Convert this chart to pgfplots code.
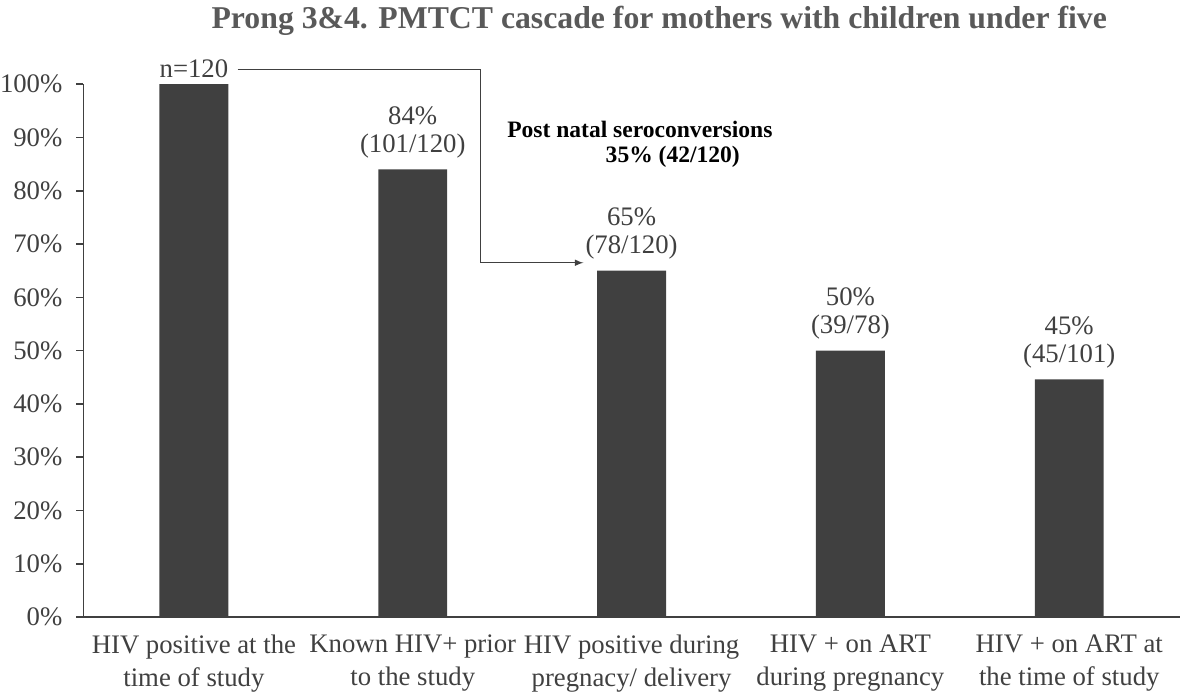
\documentclass[border=0pt]{standalone}
\usepackage{pgfplots}
\pgfplotsset{compat=1.18}
\usepackage{fontspec}
\setmainfont{Liberation Serif}
\definecolor{barc}{HTML}{404040}
\definecolor{txt}{HTML}{404040}
\definecolor{ttl}{HTML}{595959}
\begin{document}
\begin{tikzpicture}
\begin{axis}[
  width=549.5pt, height=267pt, scale only axis,
  xmin=-0.505, xmax=4.507, ymin=0, ymax=100,
  axis lines*=left,
  axis line style={draw=txt, line width=0.8pt},
  ybar, bar width=34.5pt,
  xtick={0,1,2,3,4},
  xticklabels={HIV positive at the\\time of study, Known HIV+ prior\\to the study, HIV positive during\\pregnacy/ delivery, HIV + on ART\\during pregnancy, HIV + on ART at\\the time of study},
  xticklabel style={align=center, text=txt, font=\fontsize{13.4}{16.5}\selectfont, yshift=-2pt},
  x tick style={draw=none},
  ytick={0,10,...,100},
  yticklabel={\pgfmathprintnumber{\tick}\%},
  yticklabel style={text=txt, font=\fontsize{13.4}{16}\selectfont, inner sep=0pt, xshift=-6.83pt},
  /pgf/number format/assume math mode=true,
  y tick style={draw=txt, line width=0.8pt},
  tick align=outside, major tick length=3.5pt,
  clip=false,
]
\addplot[fill=barc, draw=none] table {
x y
0 100
1 84
2 65
3 50
4 44.6
};
\node[text=ttl, font=\bfseries\fontsize{15.9}{18}\selectfont] at (axis description cs:0.525,1.118) {Prong 3\&4. PMTCT cascade for mothers with children under five};
\node[text=txt, font=\fontsize{13.4}{16}\selectfont, anchor=south, inner sep=0pt, yshift=3pt] at (axis cs:0,100) {n=120};
\draw[txt, line width=0.5pt, -latex] (axis cs:0.2,102.8) -- (axis cs:1.31,102.8) -- (axis cs:1.31,66.5) -- (axis cs:1.78,66.5);
\node[text=txt, font=\fontsize{13.4}{14}\selectfont, align=center, anchor=south, inner sep=0pt, yshift=5.5pt] at (axis cs:1,84) {84\%\\(101/120)};
\node[text=txt, font=\fontsize{13.4}{14}\selectfont, align=center, anchor=south, inner sep=0pt, yshift=5.5pt] at (axis cs:2,65) {65\%\\(78/120)};
\node[text=txt, font=\fontsize{13.4}{14}\selectfont, align=center, anchor=south, inner sep=0pt, yshift=5.5pt] at (axis cs:3,50) {50\%\\(39/78)};
\node[text=txt, font=\fontsize{13.4}{14}\selectfont, align=center, anchor=south, inner sep=0pt, yshift=5.5pt] at (axis cs:4,44.6) {45\%\\(45/101)};
\node[font=\bfseries\fontsize{11.8}{14}\selectfont, anchor=west, inner sep=0pt] at (axis cs:1.43,91.5) {Post natal seroconversions};
\node[font=\bfseries\fontsize{11.8}{14}\selectfont, anchor=west, inner sep=0pt] at (axis cs:1.88,86.3) {35\% (42/120)};
\end{axis}
\end{tikzpicture}
\end{document}
